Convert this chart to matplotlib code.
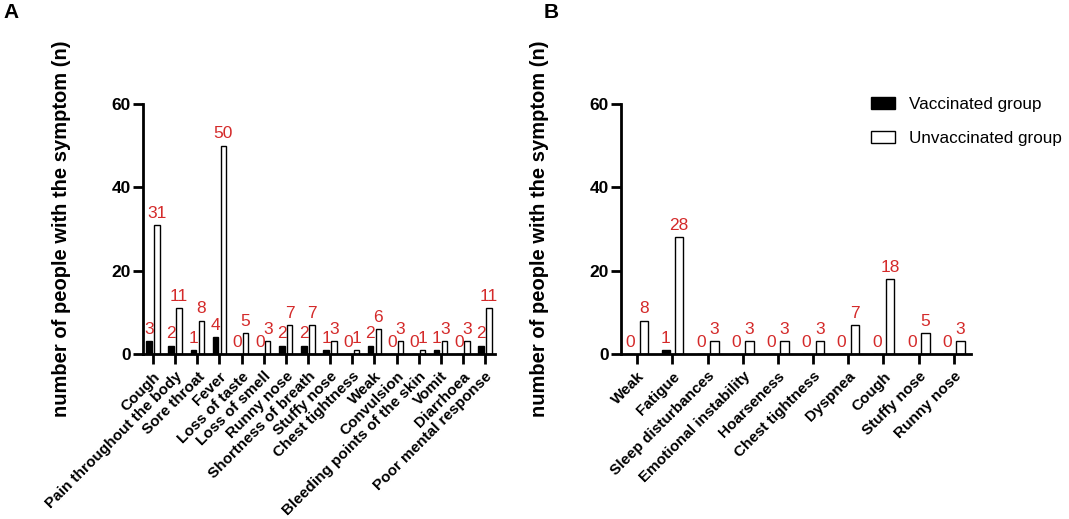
import numpy as np
import matplotlib
matplotlib.use("Agg")
from matplotlib import pyplot as plt

plt.rcParams['font.family'] = ['Liberation Sans', 'DejaVu Sans']

# panel A data
symptoms_a = ['Cough', 'Pain throughout the body', 'Sore throat', 'Fever', 'Loss of taste',
              'Loss of smell', 'Runny nose', 'Shortness of breath', 'Stuffy nose',
              'Chest tightness', 'Weak', 'Convulsion', 'Bleeding points of the skin',
              'Vomit', 'Diarrhoea', 'Poor mental response']
vacc_a = [3, 2, 1, 4, 0, 0, 2, 2, 1, 0, 2, 0, 0, 1, 0, 2]
unvacc_a = [31, 11, 8, 50, 5, 3, 7, 7, 3, 1, 6, 3, 1, 3, 3, 11]

# panel B data
symptoms_b = ['Weak', 'Fatigue', 'Sleep disturbances', 'Emotional instability', 'Hoarseness',
              'Chest tightness', 'Dyspnea', 'Cough', 'Stuffy nose', 'Runny nose']
vacc_b = [0, 1, 0, 0, 0, 0, 0, 0, 0, 0]
unvacc_b = [8, 28, 3, 3, 3, 3, 7, 18, 5, 3]

red = '#d42a2a'


def draw_panel(ax, names, vacc, unvacc, width, offset, xlim):
    x = np.arange(len(names))
    b1 = ax.bar(x - offset, vacc, width, color='black', edgecolor='black', linewidth=1,
                label='Vaccinated group')
    b2 = ax.bar(x + offset, unvacc, width, color='white', edgecolor='black', linewidth=1,
                label='Unvaccinated group')
    for bars, vals in ((b1, vacc), (b2, unvacc)):
        for r, v in zip(bars, vals):
            ax.annotate(str(v), (r.get_x() + r.get_width() / 2, v), xytext=(0, 3),
                        textcoords='offset points', ha='center', va='bottom',
                        color=red, fontsize=12.5)
    ax.set_xlim(*xlim)
    ax.set_ylim(0, 60)
    ax.set_yticks([0, 20, 40, 60])
    ax.set_xticks(x)
    ax.set_xticklabels(names, rotation=45, ha='right', rotation_mode='anchor',
                       fontsize=11, fontweight='bold')
    for lab in ax.get_yticklabels():
        lab.set_fontweight('bold')
        lab.set_fontsize(12.5)
    ax.spines['top'].set_visible(False)
    ax.spines['right'].set_visible(False)
    ax.spines['left'].set_linewidth(2)
    ax.spines['bottom'].set_linewidth(2)
    ax.tick_params(axis='both', width=2, length=7)
    ax.tick_params(axis='y', pad=2)
    ax.tick_params(axis='x', pad=4)
    ax.set_ylabel('number of people with the symptom (n)', fontsize=14.5, fontweight='bold')
    return b1, b2


fig = plt.figure(figsize=(10.69, 5.19), dpi=100)
ax_a = fig.add_axes([0.1338, 0.318, 0.3293, 0.4816])
ax_b = fig.add_axes([0.581, 0.318, 0.327, 0.4816])

draw_panel(ax_a, symptoms_a, vacc_a, unvacc_a, 0.24, 0.18, (-0.45, 15.45))
draw_panel(ax_b, symptoms_b, vacc_b, unvacc_b, 0.24, 0.19, (-0.46, 9.48))

ax_a.yaxis.set_label_coords(-0.205, 0.5)
ax_b.yaxis.set_label_coords(-0.206, 0.5)

ax_b.legend(loc='upper left', bbox_to_anchor=(0.67, 1.09), frameon=False, fontsize=12.3,
            handlelength=1.45, handleheight=0.7, labelspacing=1.1, handletextpad=0.8)

fig.text(0.003, 0.995, 'A', fontsize=15, fontweight='bold', va='top')
fig.text(0.509, 0.995, 'B', fontsize=15, fontweight='bold', va='top')

fig.savefig('out.png', dpi=100)
